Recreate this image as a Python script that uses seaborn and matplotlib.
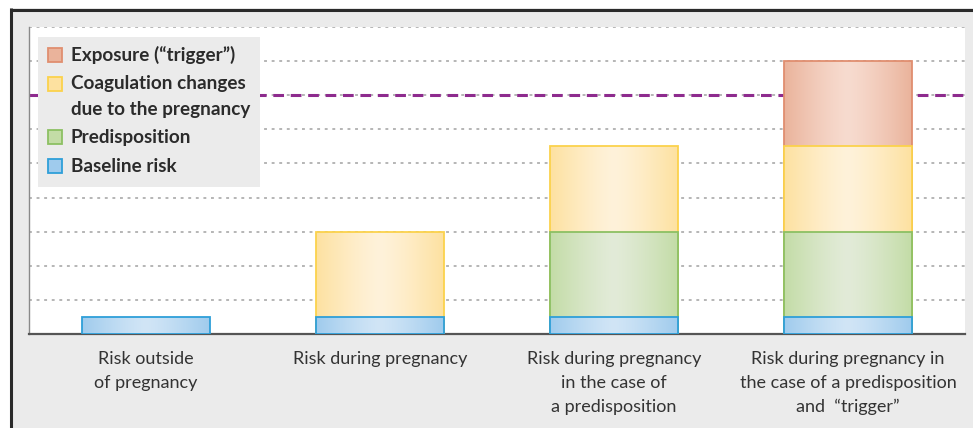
import numpy as np
import pandas as pd
import matplotlib
matplotlib.use("Agg")
import matplotlib.pyplot as plt
from matplotlib.patches import Rectangle
from matplotlib.lines import Line2D
from matplotlib.colors import to_rgba
import seaborn as sns

# ---------------- data ----------------
categories = [
    "Risk outside\nof pregnancy",
    "Risk during pregnancy",
    "Risk during pregnancy\nin the case of\na predisposition",
    "Risk during pregnancy in\nthe case of a predisposition\nand  \u201ctrigger\u201d",
]
baseline = [0.5, 0.5, 0.5, 0.5]
predisposition = [0.0, 0.0, 2.5, 2.5]
coagulation = [0.0, 2.5, 2.5, 2.5]
trigger = [0.0, 0.0, 0.0, 2.5]
threshold = 7.0
layer_names = ["Baseline risk", "Predisposition",
               "Coagulation changes\ndue to the pregnancy", "Exposure (\u201ctrigger\u201d)"]
layer_values = [baseline, predisposition, coagulation, trigger]

# styles: (edge colour, outer fill, centre fill)
layer_styles = [
    ("#2e9fd9", "#9fcbed", "#d1e5f6"),
    ("#8cc063", "#c3dca6", "#e2ebd8"),
    ("#fbd24c", "#fde1a0", "#fff2da"),
    ("#e08e6f", "#eab39b", "#f7dbcf"),
]

W, H = 973, 428
sns.set_theme(style="white")
plt.rcParams["font.family"] = ["Lato", "DejaVu Sans"]
fig = plt.figure(figsize=(W / 100, H / 100), dpi=100)
fig.patch.set_facecolor("white")


def fx(px):
    return px / W


def fy(py):
    return 1 - py / H


# frame background
fig.add_artist(Rectangle((fx(10), 0), 1 - fx(10), fy(8), transform=fig.transFigure,
                         facecolor="#ebebeb", edgecolor="none", zorder=-2))
fig.add_artist(Line2D([fx(10), 1], [fy(9.5), fy(9.5)], transform=fig.transFigure,
                      color="#2a2a2a", lw=2.2, zorder=-1, solid_capstyle="butt"))
fig.add_artist(Line2D([fx(10.5), fx(10.5)], [0, fy(8)], transform=fig.transFigure,
                      color="#2a2a2a", lw=2.2, zorder=-1, solid_capstyle="butt"))

ax = fig.add_axes([fx(29), 1 - 334 / H, (965 - 29) / W, (334 - 27) / H])
ax.set_facecolor("white")

# cumulative stacks
cum = np.cumsum(np.array(layer_values), axis=0)
x_pos = np.arange(len(categories))
width = 128 / 234

for i in reversed(range(len(layer_values))):
    vals = np.array(layer_values[i], dtype=float)
    heights = np.where(vals > 0, cum[i], np.nan)
    df = pd.DataFrame({"cat": categories, "h": heights})
    edge, outer, centre = layer_styles[i]
    n_before = len(ax.patches)
    z = 3 + (3 - i)
    sns.barplot(data=df, x="cat", y="h", order=categories, color=outer, saturation=1,
                width=width, edgecolor="none", linewidth=0, ax=ax, zorder=z)
    new_patches = ax.patches[n_before:]
    # gradient (light centre)
    t = np.linspace(-1, 1, 200)
    w = np.abs(t) ** 1.3
    c_out = np.array(to_rgba(outer))
    c_cen = np.array(to_rgba(centre))
    grad = (c_cen[None, :] * (1 - w[:, None]) + c_out[None, :] * w[:, None])[None, :, :]
    for p in new_patches:
        hgt = p.get_height()
        if not np.isfinite(hgt) or hgt <= 0:
            continue
        x0, y0 = p.get_x(), p.get_y()
        wd = p.get_width()
        im = ax.imshow(grad, extent=(x0, x0 + wd, y0, y0 + hgt), aspect="auto",
                       zorder=z + 0.1, interpolation="bilinear")
        im.set_clip_path(p)
        ax.add_patch(Rectangle((x0, y0), wd, hgt, fill=False, edgecolor=edge,
                               linewidth=1.3, zorder=z + 0.2))

ax.set_xlim(-0.5, len(categories) - 0.5)
ax.set_ylim(0, 9)

# grid
for yv in range(1, 10):
    ax.axhline(yv, color="#b0b0b0", lw=1.3, ls=(0, (1.6, 2.6)), zorder=1)
ax.axhline(threshold, color="#8e2b8e", lw=2.2, ls=(0, (3.5, 2.2)), zorder=2)

# axes styling
for s in ["top", "right"]:
    ax.spines[s].set_visible(False)
ax.spines["left"].set_color("#8a8a8a")
ax.spines["left"].set_linewidth(1.0)
ax.spines["bottom"].set_color("#555555")
ax.spines["bottom"].set_linewidth(1.6)
ax.set_yticks([])
ax.set_ylabel("")
ax.set_xlabel("")
ax.set_xticks(x_pos)
ax.set_xticklabels(categories, fontsize=13, color="#333333", linespacing=1.6)
ax.tick_params(axis="x", which="major", length=0, pad=12.2)
ax.set_xticks(np.arange(-0.5, len(categories), 1.0), minor=True)
ax.tick_params(axis="x", which="minor", length=5, width=1.2, color="#555555", direction="out")

# legend (manual)
fig.add_artist(Rectangle((fx(38), fy(187)), fx(260) - fx(38), fy(37) - fy(187),
                         transform=fig.transFigure, facecolor="#ebebeb",
                         edgecolor="none", zorder=5))
leg_rows = [(3, 55), (2, 84), (1, 137), (0, 166)]
for li, yc in leg_rows:
    edge, outer, centre = layer_styles[li]
    fig.add_artist(Rectangle((fx(48), fy(yc + 7)), fx(62) - fx(48), fy(yc - 7) - fy(yc + 7),
                             transform=fig.transFigure, facecolor=outer,
                             edgecolor=edge, lw=1.3, zorder=6))
    lines = layer_names[li].split("\n")
    for k, line in enumerate(lines):
        fig.text(fx(71), fy(yc + 25 * k), line, fontsize=13.6, fontweight="bold",
                 color="#2b2b2b", va="center", zorder=7)

fig.savefig("out.png", dpi=100, facecolor=fig.get_facecolor())
